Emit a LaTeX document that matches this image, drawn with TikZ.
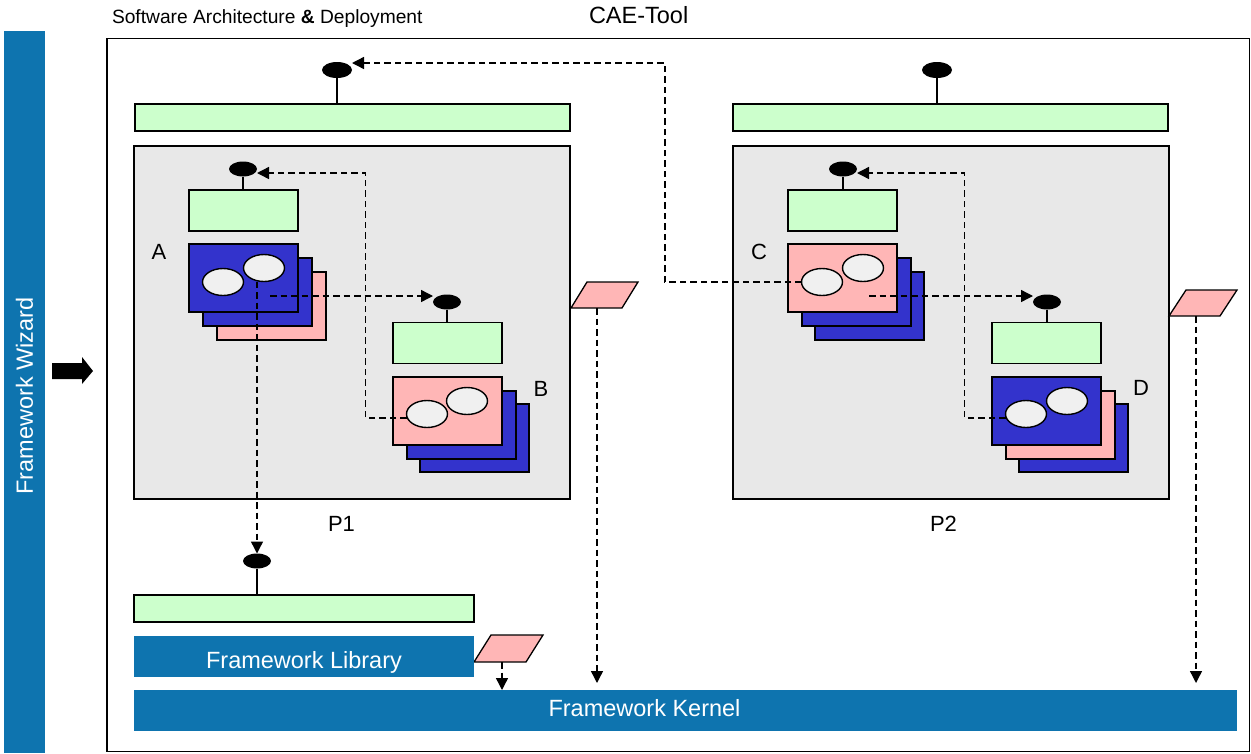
\documentclass[tikz,border=0pt]{standalone}
\usepackage{fontspec}
\setmainfont{Liberation Sans}
\usetikzlibrary{shapes.geometric,arrows.meta,calc}
\definecolor{barblue}{RGB}{14,116,175}
\definecolor{cardblue}{RGB}{51,51,204}
\definecolor{cardpink}{RGB}{255,182,182}
\definecolor{lgreen}{RGB}{204,255,204}
\definecolor{lgrey}{RGB}{232,232,232}
\definecolor{ovalc}{RGB}{240,240,240}
\tikzset{
  x=1pt, y=-1pt,
  every node/.style={inner sep=0pt, outer sep=0pt},
  greenbox/.style={draw, line width=1.4pt, fill=lgreen},
  greybox/.style={draw, line width=1.5pt, fill=lgrey},
  lolli/.style={ellipse, fill=black, minimum width=28, minimum height=15},
  stem/.style={line width=1.2pt},
  card/.style={draw, line width=1.6pt, minimum width=109, minimum height=68},
  bluecard/.style={card, fill=cardblue},
  pinkcard/.style={card, fill=cardpink},
  oval/.style={ellipse, draw, line width=1.4pt, fill=ovalc, minimum width=41, minimum height=27},
  conn/.style={line width=1.4pt, dash pattern=on 6.5pt off 4pt, -{Triangle[length=12pt,width=12pt]}},
  para/.style={draw, line width=1.3pt, fill=cardpink, line join=miter},
  bar/.style={fill=barblue, minimum height=41},
  bigtext/.style={font=\fontsize{23.5}{28}\selectfont},
  lbl/.style={font=\fontsize{22}{26}\selectfont, anchor=base},
}
\begin{document}
\begin{tikzpicture}
\useasboundingbox (0,0) rectangle (1251,753);

% titles
\node[anchor=base west, font=\fontsize{19.2}{23}\selectfont] (title) at (112,23) {Software Architecture \textbf{\&} Deployment};
\node[anchor=base west, bigtext] (cae) at (589,23) {CAE-Tool};

% wizard
\node[fill=barblue, minimum width=41, minimum height=722] (wiz) at (24.5,392) {};
\node[bigtext, text=white, rotate=90] (wiztext) at (24.5,396) {Framework Wizard};
\fill (52,363) -- (82,363) -- (82,357) -- (93,371) -- (82,384) -- (82,379) -- (52,379) -- cycle;

% outer frame
\node[draw, line width=1.4pt, minimum width=1142.5, minimum height=713] (frame) at (678.25,395) {};

% top bars and lollipops
\node[greenbox, minimum width=435, minimum height=27] (top1) at (352.5,117.5) {};
\node[greenbox, minimum width=435, minimum height=27] (top2) at (950.5,117.5) {};
\node[lolli, minimum width=30, minimum height=16] (lolT1) at (337,70) {};
\node[lolli, minimum width=30, minimum height=16] (lolT2) at (937,70) {};
\draw[stem] (lolT1.south) -- (lolT1.south |- top1.north);
\draw[stem] (lolT2.south) -- (lolT2.south |- top2.north);

% process boxes
\node[greybox, minimum width=436, minimum height=353] (P1box) at (352,322.5) {};
\node[greybox, minimum width=436, minimum height=353] (P2box) at (951,322.5) {};
\node[lbl] (P1) at (341.5,531) {P1};
\node[lbl] (P2) at (943.5,531) {P2};

% ---- P1 contents
\node[lolli] (lolA) at (243,169) {};
\node[greenbox, minimum width=109, minimum height=41] (gA) at (243.5,210.5) {};
\draw[stem] (lolA.south) -- (lolA.south |- gA.north);
\node[pinkcard] (cA3) at (271.5,306) {};
\node[bluecard] (cA2) at (257.5,292) {};
\node[bluecard] (cA1) at (243.5,278) {};
\node[oval] (eA1) at (223,282) {};
\node[oval] (eA2) at (264,268) {};
\node[lbl] (labA) at (159,259) {A};

\node[lolli] (lolB) at (447,302) {};
\node[greenbox, minimum width=109, minimum height=41] (gB) at (447.5,343) {};
\draw[stem] (lolB.south) -- (lolB.south |- gB.north);
\node[bluecard] (cB3) at (474.5,438) {};
\node[bluecard] (cB2) at (461.5,425) {};
\node[pinkcard] (cB1) at (447.5,411) {};
\node[oval] (eB1) at (427,414) {};
\node[oval] (eB2) at (467,401) {};
\node[lbl] (labB) at (541,396) {B};

% ---- P2 contents
\node[lolli] (lolC) at (843,169) {};
\node[greenbox, minimum width=109, minimum height=41] (gC) at (842.5,210.5) {};
\draw[stem] (lolC.south) -- (lolC.south |- gC.north);
\node[bluecard] (cC3) at (869.5,306) {};
\node[bluecard] (cC2) at (856.5,292) {};
\node[pinkcard] (cC1) at (842.5,278) {};
\node[oval] (eC1) at (822,282) {};
\node[oval] (eC2) at (863,268) {};
\node[lbl] (labC) at (759,259) {C};

\node[lolli] (lolD) at (1047,302) {};
\node[greenbox, minimum width=109, minimum height=41] (gD) at (1046.5,343) {};
\draw[stem] (lolD.south) -- (lolD.south |- gD.north);
\node[bluecard] (cD3) at (1073.5,438) {};
\node[pinkcard] (cD2) at (1060.5,425) {};
\node[bluecard] (cD1) at (1046.5,411) {};
\node[oval] (eD1) at (1026,414) {};
\node[oval] (eD2) at (1067,401) {};
\node[lbl] (labD) at (1141,395) {D};

% parallelograms
\coordinate (para1) at (571,308);
\draw[para] (para1) -- ++(51,0) -- ++(16,-26) -- ++(-51,0) -- cycle;
\coordinate (para1b) at (597,308);
\coordinate (para2) at (1169,316);
\draw[para] (para2) -- ++(51,0) -- ++(17,-26) -- ++(-51,0) -- cycle;
\coordinate (para2b) at (1196,316);
\coordinate (paraL) at (474,662);
\draw[para] (paraL) -- ++(52,0) -- ++(17,-27) -- ++(-52,0) -- cycle;
\coordinate (paraLb) at (502,662);

% bottom library area
\node[lolli] (lolL) at (257,561) {};
\node[greenbox, minimum width=340, minimum height=27] (gL) at (304,608.5) {};
\draw[stem] (lolL.south) -- (lolL.south |- gL.north);
\node[bar, minimum width=340] (lib) at (304,656.5) {};
\node[bigtext, text=white, anchor=base] (libtext) at (304,668) {Framework Library};
\node[bar, minimum width=1103] (kernel) at (685.5,710.5) {};
\node[bigtext, text=white, anchor=base] (kerneltext) at (644.5,716) {Framework Kernel};

% connectors
\draw[conn] ($(eA2.south)+(6,14.5)$) -- ($(lolB.west)+(0,-6)$);
\draw[conn] (lolL.north |- eA2.south) -- (lolL.north);
\draw[conn] ($(eB1.west)+(0,4)$) -- ++(-41,0) |- ($(lolA.east)+(0,4)$);
\draw[conn] ($(eC2.south)+(6,14.5)$) -- ($(lolD.west)+(0,-6)$);
\draw[conn] ($(eD1.west)+(0,4)$) -- ++(-41,0) |- ($(lolC.east)+(0,4)$);
\draw[conn] (eC1.west) -- ++(-136.5,0) |- ($(lolT1.east)+(0,-7)$);
\draw[conn, shorten >=7pt] (para1b) -- (para1b |- kernel.north);
\draw[conn, shorten >=7pt] (para2b) -- (para2b |- kernel.north);
\draw[conn] (paraLb) -- (paraLb |- kernel.north);
\end{tikzpicture}
\end{document}
